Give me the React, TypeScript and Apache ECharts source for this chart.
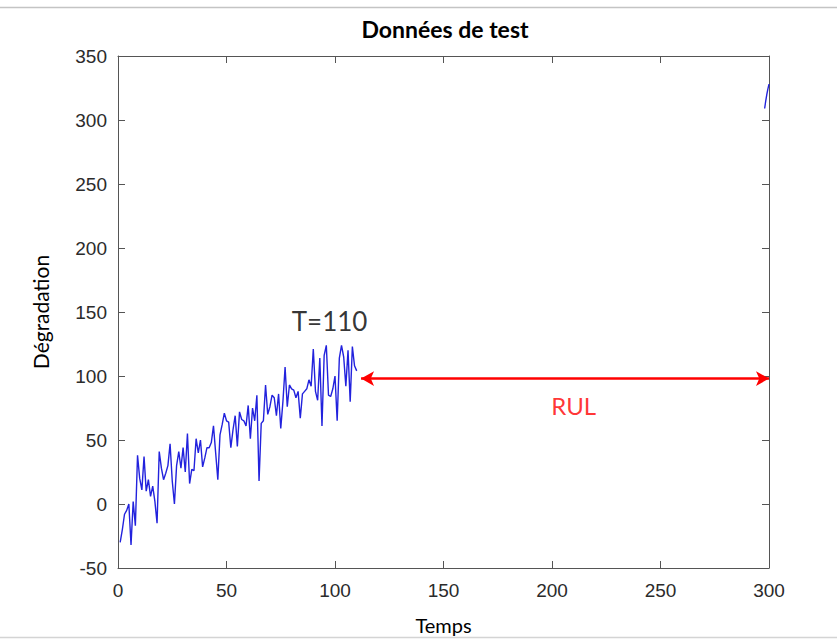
import React, { useEffect, useRef } from "react";
import * as echarts from "echarts";

// Degradation measured on the test unit, one reading per time step (t = 1 … 110)
const testValues: number[] = [
  -30, -20, -8, -5, 0, -32, 2, -17, 38, 20,
  11, 37, 10, 19, 6, 14, 2, -15, 41, 28,
  19, 24, 30, 47, 18, 0, 30, 41, 28, 44,
  25, 55, 16, 27, 26, 51, 40, 50, 29, 36,
  44, 44, 48, 61, 40, 19, 54, 62, 71, 65,
  64, 44, 58, 69, 45, 72, 66, 65, 61, 77,
  51, 75, 65, 85, 18, 63, 65, 93, 70, 76,
  85, 83, 69, 86, 59, 80, 107, 76, 93, 90,
  89, 83, 88, 67, 86, 88, 90, 97, 92, 121,
  88, 81, 114, 61, 116, 124, 85, 84, 90, 100,
  65, 114, 124, 115, 92, 120, 80, 123, 108, 104,
];
const testTimes: number[] = testValues.map((_, i) => i + 1);

// Failure level reached at the end of the horizon
const endTimes: number[] = [298, 299, 300];
const endValues: number[] = [309, 320, 328];

// Remaining useful life arrow
const rulStart: [number, number] = [112, 98];
const rulEnd: [number, number] = [300, 98];

// Annotation texts
const annotationLabels: string[] = ["T=110", "RUL"];
const annotationTimes: number[] = [97.5, 210];
const annotationValues: number[] = [143, 77];
const annotationColors: string[] = ["#000000", "#ff0000"];

// Axis ranges
const xMin = 0, xMax = 300, xStep = 50;
const yMin = -50, yMax = 350, yStep = 50;

const TICK_FONT = "'Liberation Sans', Arial, sans-serif";
const TEXT_FONT = "Lato, 'Noto Sans', sans-serif";
const FRAME = "#555555";
const TICK_TEXT = "#2b2b2b";

export default function App() {
  const ref = useRef<HTMLDivElement>(null);

  useEffect(() => {
    if (!ref.current) return;
    const chart = echarts.init(ref.current, undefined, { renderer: "svg" });

    const tickAxis = {
      axisLine: { show: true, onZero: false, lineStyle: { color: FRAME, width: 1 } },
      axisTick: { show: true, inside: true, length: 7, lineStyle: { color: FRAME, width: 1 } },
      splitLine: { show: false },
    };

    chart.setOption({
      animation: false,
      backgroundColor: "#ffffff",
      grid: { left: 118, right: 68, top: 56, bottom: 70, containLabel: false },
      xAxis: [
        {
          type: "value",
          min: xMin,
          max: xMax,
          interval: xStep,
          position: "bottom",
          ...tickAxis,
          axisLabel: {
            color: TICK_TEXT,
            fontFamily: TICK_FONT,
            fontSize: 19,
            margin: 13,
          },
          name: "Temps",
          nameLocation: "middle",
          nameGap: 47,
          nameTextStyle: { color: "#000000", fontFamily: TEXT_FONT, fontSize: 20 },
        },
        {
          type: "value",
          min: xMin,
          max: xMax,
          interval: xStep,
          position: "top",
          ...tickAxis,
          axisLabel: { show: false },
        },
      ],
      yAxis: [
        {
          type: "value",
          min: yMin,
          max: yMax,
          interval: yStep,
          position: "left",
          ...tickAxis,
          axisLabel: {
            color: TICK_TEXT,
            fontFamily: TICK_FONT,
            fontSize: 19,
            margin: 11,
          },
          name: "Dégradation",
          nameLocation: "middle",
          nameGap: 67,
          nameTextStyle: { color: "#000000", fontFamily: TEXT_FONT, fontSize: 21 },
        },
        {
          type: "value",
          min: yMin,
          max: yMax,
          interval: yStep,
          position: "right",
          ...tickAxis,
          axisLabel: { show: false },
        },
      ],
      series: [
        {
          name: "test",
          type: "line",
          data: testTimes.map((t, i) => [t, testValues[i]]),
          showSymbol: false,
          symbol: "none",
          lineStyle: { color: "#2222dd", width: 1.4 },
          markLine: {
            silent: true,
            symbol: ["arrow", "arrow"],
            symbolSize: [11, 13],
            label: { show: false },
            lineStyle: { color: "#ff0000", width: 2.5, type: "solid" },
            data: [[{ coord: rulStart }, { coord: rulEnd }]],
          },
        },
        {
          name: "fin",
          type: "line",
          data: endTimes.map((t, i) => [t, endValues[i]]),
          smooth: true,
          showSymbol: false,
          symbol: "none",
          lineStyle: { color: "#2222dd", width: 1.4 },
        },
        {
          name: "annotations",
          type: "scatter",
          symbolSize: 0,
          silent: true,
          data: annotationLabels.map((text, i) => ({
            value: [annotationTimes[i], annotationValues[i]],
            name: text,
            label: {
              show: true,
              position: "inside",
              formatter: text,
              color: annotationColors[i],
              fontFamily: TEXT_FONT,
              fontSize: i === 0 ? 26 : 24,
            },
          })),
        },
      ],
      graphic: [
        {
          type: "text",
          x: 445,
          y: 29,
          style: {
            text: "Données de test",
            fill: "#000000",
            font: `bold 23px ${TEXT_FONT}`,
            textAlign: "center",
            textVerticalAlign: "middle",
          },
        },
        {
          type: "line",
          shape: { x1: 0, y1: 7.5, x2: 837, y2: 7.5 },
          style: { stroke: "#c4c4c4", lineWidth: 1.5 },
        },
        {
          type: "line",
          shape: { x1: 0, y1: 637.5, x2: 837, y2: 637.5 },
          style: { stroke: "#d4d4d4", lineWidth: 1.5 },
        },
      ],
    });

    return () => chart.dispose();
  }, []);

  return (
    <div
      ref={ref}
      style={{ position: "fixed", left: 0, top: 0, width: 837, height: 640, background: "#ffffff" }}
    />
  );
}
